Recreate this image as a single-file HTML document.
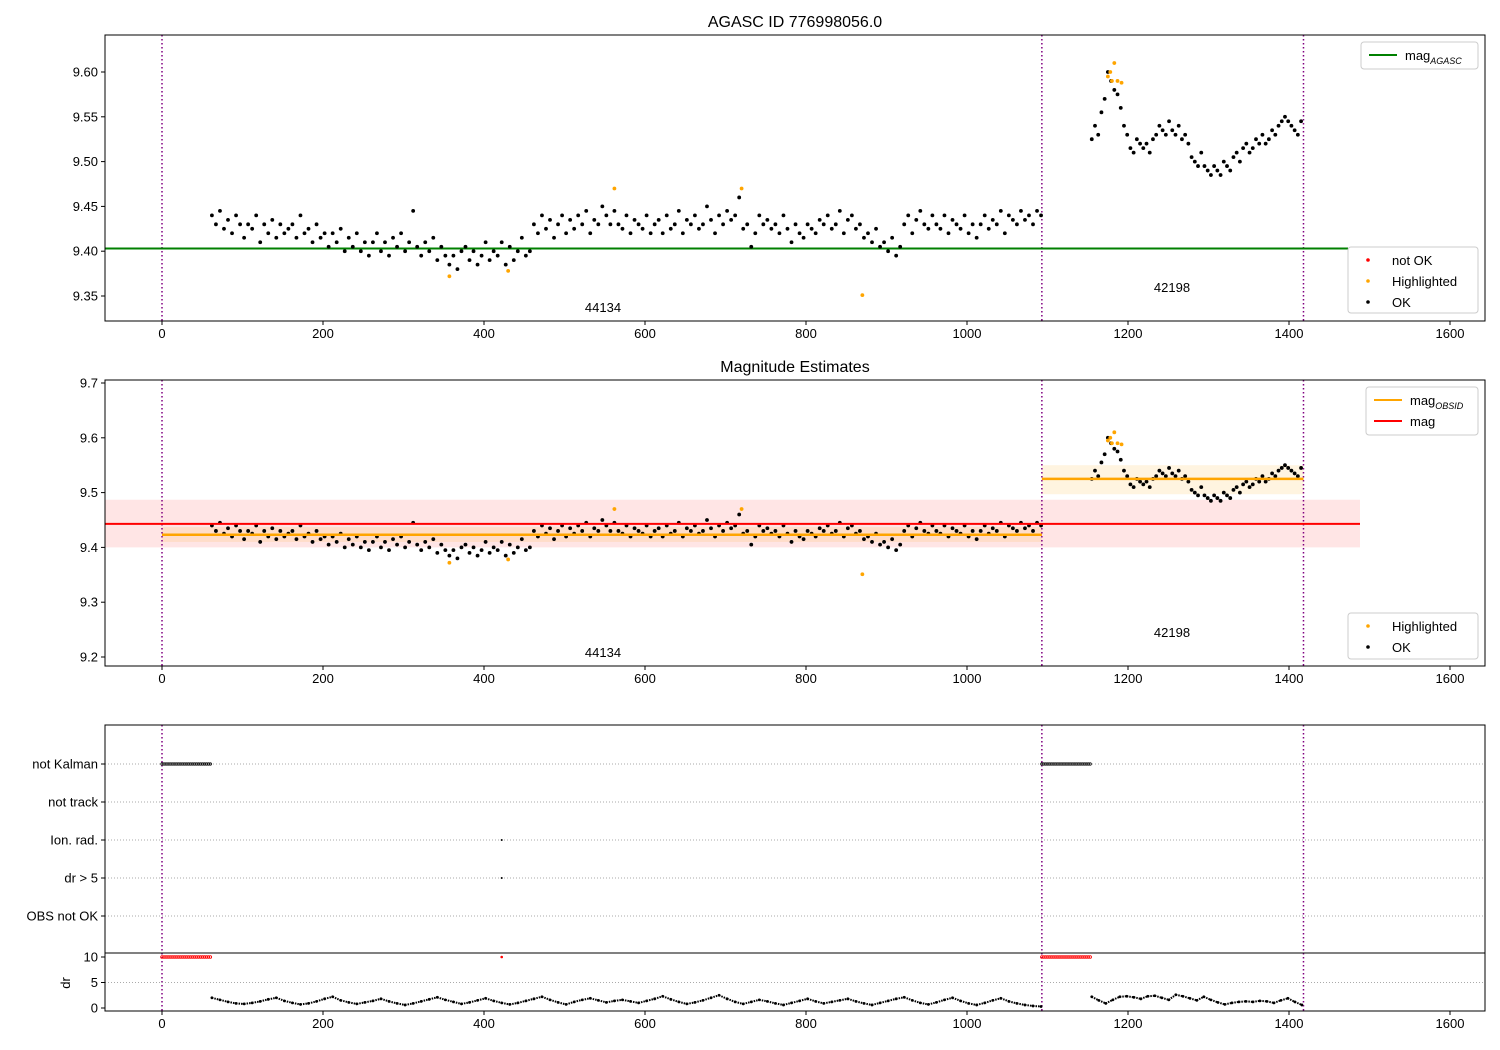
<!DOCTYPE html>
<html><head><meta charset="utf-8"><style>
body{margin:0;background:#fff}
svg{display:block;font-family:"Liberation Sans","DejaVu Sans",sans-serif}
</style></head><body>
<svg id="c" width="1500" height="1050" viewBox="0 0 1500 1050"></svg>
<script>
// ---- data ----
const seg1Start = 62, seg1Step = 5;
const seg1Mag = [9.44,9.43,9.445,9.425,9.435,9.42,9.44,9.43,9.415,9.43,
9.425,9.44,9.41,9.43,9.42,9.435,9.415,9.43,9.42,9.425,
9.43,9.415,9.44,9.42,9.425,9.41,9.43,9.415,9.42,9.405,
9.42,9.41,9.425,9.4,9.415,9.405,9.42,9.4,9.41,9.395,
9.41,9.42,9.4,9.41,9.395,9.415,9.405,9.42,9.4,9.41,
9.445,9.405,9.395,9.41,9.4,9.415,9.39,9.405,9.395,9.385,
9.395,9.38,9.4,9.405,9.39,9.4,9.385,9.395,9.41,9.39,
9.4,9.395,9.41,9.385,9.405,9.39,9.4,9.415,9.395,9.4,
9.43,9.42,9.44,9.425,9.435,9.415,9.43,9.44,9.42,9.435,
9.425,9.44,9.43,9.445,9.42,9.435,9.43,9.45,9.44,9.43,
9.445,9.43,9.425,9.44,9.42,9.435,9.43,9.425,9.44,9.42,
9.43,9.435,9.42,9.44,9.425,9.43,9.445,9.42,9.435,9.43,
9.44,9.425,9.43,9.45,9.435,9.42,9.44,9.43,9.445,9.435,
9.44,9.46,9.425,9.43,9.405,9.42,9.44,9.43,9.435,9.425,
9.43,9.42,9.44,9.425,9.41,9.43,9.42,9.415,9.43,9.425,
9.42,9.435,9.43,9.44,9.425,9.43,9.445,9.42,9.435,9.44,
9.425,9.43,9.415,9.42,9.41,9.425,9.405,9.41,9.4,9.415,
9.395,9.405,9.43,9.44,9.42,9.435,9.445,9.43,9.425,9.44,
9.43,9.425,9.44,9.42,9.435,9.43,9.425,9.44,9.42,9.43,
9.415,9.43,9.44,9.425,9.435,9.43,9.445,9.42,9.44,9.435,
9.43,9.445,9.435,9.44,9.43,9.445,9.44];
const seg2Start = 1155, seg2Step = 4;
const seg2Mag = [9.525,9.54,9.53,9.555,9.57,9.6,9.59,9.58,9.575,9.56,
9.54,9.53,9.515,9.51,9.525,9.52,9.515,9.52,9.51,9.525,
9.53,9.54,9.535,9.53,9.545,9.535,9.53,9.54,9.525,9.53,
9.52,9.505,9.5,9.495,9.51,9.495,9.49,9.485,9.495,9.49,
9.485,9.5,9.495,9.49,9.505,9.51,9.5,9.515,9.52,9.51,
9.515,9.525,9.52,9.53,9.52,9.525,9.535,9.53,9.54,9.545,
9.55,9.545,9.54,9.535,9.53,9.545];
const hlT = [357,430,562,720,870,1175,1178,1183,1180,1187,1192];
const hlMag = [9.372,9.378,9.47,9.47,9.351,9.595,9.6,9.61,9.59,9.59,9.588];
const obsBreaks = [0,1093,1418];
const obsIds = ["44134","42198"];
const magAgasc = 9.403;
const magMean = 9.443, magLo = 9.40, magHi = 9.487;
const obsMag = [9.423, 9.525];
const obsLo = [9.41, 9.497];
const obsHi = [9.437, 9.55];
const flagCats = ["not Kalman","not track","Ion. rad.","dr > 5","OBS not OK"];
const notKalmanRanges = [[0,62],[1093,1155]];
const ionT = [422];
const dr5T = [422];
const drStep = 10;
const dr1 = [2,1.6,1.2,0.9,0.8,1,1.3,1.7,2,1.4,1,0.7,0.9,1.3,1.8,2.2,1.5,1.1,0.8,1.1,
1.4,1.8,1.3,0.9,0.6,0.9,1.3,1.7,2.1,1.6,1.2,0.8,1.1,1.5,1.9,1.4,1,0.7,1,1.4,
1.8,2.2,1.6,1.1,0.7,1.2,1.6,1.9,1.5,1.1,1.4,1.6,1.3,1,1.4,1.8,2.3,1.7,1.2,0.8,
1.1,1.5,2,2.5,1.8,1.2,0.8,1.2,1.6,1.3,0.9,0.6,1,1.4,1.8,1.3,0.9,1.2,1.5,1.8,
1.3,0.9,0.6,1,1.4,1.8,2.1,1.5,1,0.7,1.1,1.6,2,1.4,0.9,0.6,1,1.5,1.9,1.3,0.9,0.6,0.4,0.3];
const dr2 = [2.2,1.5,0.9,1.6,2.2,2.3,2.1,1.8,2.3,2.4,2,1.6,2.6,2.3,1.9,1.5,2.2,1.6,1.1,0.7,1,1.2,1.3,1.2,1.4,1.3,1,1.5,1.9,1.2,0.6];
// ---- helpers ----
const svg = document.getElementById('c');
const NS = 'http://www.w3.org/2000/svg';
function el(tag, attrs, parent){const e=document.createElementNS(NS,tag);for(const k in attrs)e.setAttribute(k,attrs[k]);(parent||svg).appendChild(e);return e;}
const X = t => 162 + t*0.805;
const Y1 = v => 72 + (9.60 - v)*896;
const Y2 = v => 383 + (9.7 - v)*548;
const YF = i => 764 + i*38;
const YD = v => 1008 - v*5.1;
const seg1T = seg1Mag.map((_,i)=>seg1Start+i*seg1Step);
const seg2T = seg2Mag.map((_,i)=>seg2Start+i*seg2Step);

function frame(x0,y0,x1,y1,name){const r=el('rect',{x:x0,y:y0,width:x1-x0,height:y1-y0,fill:'none',stroke:'#000','stroke-width':1});}
function xTicks(yb,name){
  const g=el('g',{});
  for(let t=0;t<=1600;t+=200){el('line',{x1:X(t),x2:X(t),y1:yb,y2:yb+4,stroke:'#000'},g);
    const tx=el('text',{x:X(t),y:yb+17,'font-size':13,'text-anchor':'middle'},g);tx.textContent=t;}
}
function yTicks(vals,fy,fmt,name,x0){
  const g=el('g',{});
  vals.forEach(v=>{el('line',{x1:x0-4,x2:x0,y1:fy(v),y2:fy(v),stroke:'#000'},g);
    const tx=el('text',{x:x0-7,y:fy(v)+4.5,'font-size':13,'text-anchor':'end'},g);tx.textContent=fmt(v);});
}
function vlines(y0,y1){obsBreaks.forEach(t=>{const l=el('line',{x1:X(t),x2:X(t),y1:y0,y2:y1,stroke:'#800080','stroke-width':1.5,'stroke-dasharray':'1.5,2.5'});});}
function dots(ts,vs,fy,color,name,r){const g=el('g',{});
  ts.forEach((t,i)=>el('circle',{cx:X(t),cy:fy(vs[i]),r:r||1.9,fill:color},g));}
function text(x,y,s,size,anchor,name){const t=el('text',{x:x,y:y,'font-size':size,'text-anchor':anchor||'middle'});t.textContent=s;return t;}
function legendBox(x,y,w,h,items,name){const g=el('g',{});
  el('rect',{x:x,y:y,width:w,height:h,rx:3,fill:'#fff','fill-opacity':0.85,stroke:'#ccc'},g);
  items.forEach((it,i)=>{const cy=y+13+i*21;
    if(it.type==='line')el('line',{x1:x+8,x2:x+36,y1:cy,y2:cy,stroke:it.color,'stroke-width':2},g);
    else el('circle',{cx:x+20,cy:cy,r:1.8,fill:it.color},g);
    const t=el('text',{x:x+44,y:cy+5,'font-size':13},g);t.innerHTML=it.label;});
}

// ---- panel 1 ----
text(795,27,'AGASC ID 776998056.0',16,'middle','title-agasc');
vlines(35,321);
const ag=el('line',{x1:105,x2:1348,y1:Y1(magAgasc),y2:Y1(magAgasc),stroke:'green','stroke-width':2});
dots(seg1T,seg1Mag,Y1,'#000','ok-points-obs1');
dots(seg2T,seg2Mag,Y1,'#000','ok-points-obs2');
dots(hlT,hlMag,Y1,'orange','highlighted-points');
text(603,312,obsIds[0],13,'middle','obsid-label');text(1172,292,obsIds[1],13,'middle','obsid-label');
frame(105,35,1485,321,'axes-agasc');
xTicks(321,'x-axis-1');
yTicks([9.35,9.40,9.45,9.50,9.55,9.60],Y1,v=>v.toFixed(2),'y-axis-1',105);
legendBox(1361,42,117,27,[{type:'line',color:'green',label:'mag<tspan font-size="9" dy="4" font-style="italic">AGASC</tspan>'}],'legend-agasc');
legendBox(1348,247,130,66,[{type:'dot',color:'red',label:'not OK'},{type:'dot',color:'orange',label:'Highlighted'},{type:'dot',color:'#000',label:'OK'}],'legend-points-1');

// ---- panel 2 ----
text(795,372,'Magnitude Estimates',16,'middle','title-mag-estimates');
const band=el('rect',{x:105,y:Y2(magHi),width:1360-105,height:Y2(magLo)-Y2(magHi),fill:'red','fill-opacity':0.1});
[[0,1093],[1093,1418]].forEach((r,i)=>{const b=el('rect',{x:X(r[0]),y:Y2(obsHi[i]),width:X(r[1])-X(r[0]),height:Y2(obsLo[i])-Y2(obsHi[i]),fill:'orange','fill-opacity':0.12});});
vlines(380,666);
dots(seg1T,seg1Mag,Y2,'#000','ok-points-obs1-p2');
dots(seg2T,seg2Mag,Y2,'#000','ok-points-obs2-p2');
dots(hlT,hlMag,Y2,'orange','highlighted-points-p2');
[[0,1093],[1093,1418]].forEach((r,i)=>{const l=el('line',{x1:X(r[0]),x2:X(r[1]),y1:Y2(obsMag[i]),y2:Y2(obsMag[i]),stroke:'orange','stroke-width':2.5});});
const ml=el('line',{x1:105,x2:1360,y1:Y2(magMean),y2:Y2(magMean),stroke:'red','stroke-width':2});
text(603,657,obsIds[0],13,'middle','obsid-label');text(1172,637,obsIds[1],13,'middle','obsid-label');
frame(105,380,1485,666,'axes-mag');
xTicks(666,'x-axis-2');
yTicks([9.2,9.3,9.4,9.5,9.6,9.7],Y2,v=>v.toFixed(1),'y-axis-2',105);
legendBox(1366,387,112,48,[{type:'line',color:'orange',label:'mag<tspan font-size="9" dy="4" font-style="italic">OBSID</tspan>'},{type:'line',color:'red',label:'mag'}],'legend-mag');
legendBox(1348,613,130,46,[{type:'dot',color:'orange',label:'Highlighted'},{type:'dot',color:'#000',label:'OK'}],'legend-points-2');

// ---- panel 3 flags ----
flagCats.forEach((c,i)=>{const l=el('line',{x1:105,x2:1485,y1:YF(i),y2:YF(i),stroke:'#aaa','stroke-dasharray':'1,2'});});
vlines(725,1011);
notKalmanRanges.forEach(r=>{const ts=[];for(let t=r[0];t<=r[1];t+=2.5)ts.push(t);
  const g=el('g',{});
  ts.forEach(t=>el('circle',{cx:X(t),cy:YF(0),r:1.2,fill:'none',stroke:'#000','stroke-width':0.8},g));});
dots(ionT,[2],YF,'#000','ion-rad-flags',1);
dots(dr5T,[3],YF,'#000','dr5-flags',1);
frame(105,725,1485,953,'axes-flags');
yTicks([0,1,2,3,4],YF,i=>flagCats[i],'y-axis-flags',105);

// ---- panel 4 dr ----
const g5=el('line',{x1:105,x2:1485,y1:YD(5),y2:YD(5),stroke:'#aaa','stroke-dasharray':'1,2'});
notKalmanRanges.forEach(r=>{const ts=[];for(let t=r[0];t<=r[1];t+=2.5)ts.push(t);
  const g=el('g',{});
  ts.forEach(t=>el('circle',{cx:X(t),cy:YD(10),r:1.3,fill:'none',stroke:'red','stroke-width':0.9},g));});
dots([422],[10],YD,'red','dr-capped-points',1.3);
const d1T=dr1.map((_,i)=>62+i*drStep), d2T=dr2.map((_,i)=>1155+i*8.7);
function drLine(ts,vs,name){const g=el('g',{});
  for(let i=0;i<ts.length;i++){el('circle',{cx:X(ts[i]),cy:YD(vs[i]),r:1.4,fill:'#000'},g);
    if(i<ts.length-1){el('line',{x1:X(ts[i]),y1:YD(vs[i]),x2:X(ts[i+1]),y2:YD(vs[i+1]),stroke:'#000','stroke-width':2,'stroke-dasharray':'1.5,1'},g);}}}
drLine(d1T,dr1,'dr-points-obs1');
drLine(d2T,dr2,'dr-points-obs2');
frame(105,953,1485,1011,'axes-dr');
xTicks(1011,'x-axis-dr');
yTicks([0,5,10],YD,v=>v,'y-axis-dr',105);
const yl=el('text',{x:0,y:0,'font-size':13,'text-anchor':'middle',transform:'translate(70,983) rotate(-90)'});yl.textContent='dr';
</script>
</body></html>
